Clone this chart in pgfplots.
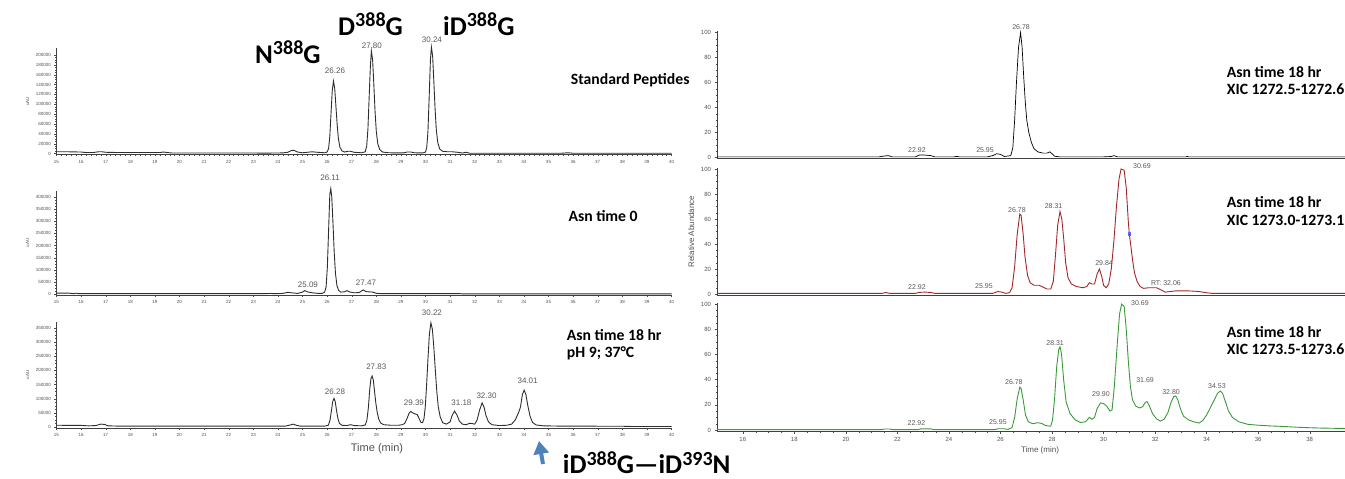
\documentclass[border=0pt]{standalone}
\usepackage{fontspec}
\setmainfont{Liberation Sans}
\newfontfamily\lbl{Carlito}
\usepackage{pgfplots}
\pgfplotsset{compat=1.18}
\usetikzlibrary{arrows.meta}

\definecolor{uvline}{HTML}{2E2E2E}
\definecolor{xicred}{HTML}{A0282B}
\definecolor{xicgreen}{HTML}{3A9A3A}
\definecolor{ticktext}{HTML}{505050}
\definecolor{arrowblue}{HTML}{4F81BD}

\pgfplotsset{
  chrom/.style={
    scale only axis, anchor=south west, clip=false,
    axis lines=left, axis line style={-, draw=black!75, line width=0.5pt},
    tick align=outside, tick style={draw=black!70, line width=0.3pt},
    scaled y ticks=false,
    /pgf/number format/assume math mode=true,
    yticklabel style={/pgf/number format/fixed, /pgf/number format/1000 sep={}},
  },
  uv/.style={
    chrom, width=615pt, xmin=15, xmax=40,
    xtick={15,...,40}, minor x tick num=4, minor y tick num=3,
    major tick length=2pt, minor tick length=1.2pt,
    tick label style={font=\fontsize{4.5}{5}\selectfont, text=ticktext},
    ylabel={uAU}, ylabel style={font=\fontsize{4.5}{5}\selectfont, text=ticktext},
  },
  ms/.style={
    chrom, width=628.8pt, xmin=15, xmax=39.4, ymin=-1, ymax=101,
    ytick={0,20,...,100}, minor y tick num=3,
    major tick length=2.5pt, minor tick length=1.5pt,
    tick label style={font=\fontsize{6}{7}\selectfont, text=ticktext},
  },
}
\tikzset{
  pk/.style={font=\fontsize{8}{9}\selectfont, text=black!65, inner sep=0pt},
  pkr/.style={font=\fontsize{7}{8}\selectfont, text=black!65, inner sep=0pt},
  tagnode/.style={anchor=base west, inner sep=0pt},
}

% big peptide names: 27pt, superscripts at 0.75
\newcommand{\sups}[1]{\raisebox{0.33em}{\fontsize{20}{20}\selectfont #1}}
\newcommand{\biglbl}[1]{{\lbl\bfseries\fontsize{27}{30}\selectfont #1}}
\newcommand{\paneltag}[1]{{\lbl\bfseries\fontsize{15.7}{18}\selectfont #1}}

\begin{document}
\begin{tikzpicture}
\useasboundingbox (0,0) rectangle (1345pt,479pt);

% ---------- left: UV traces ----------
\begin{axis}[uv, at={(56.5pt,324.5pt)}, height=106.4pt,
  ymin=-2000, ymax=214000, ytick={0,20000,...,200000}]
\addplot[uvline, line width=0.9pt] coordinates {
(15.00,3500) (15.50,3500) (16.00,3000) (16.20,2000) (16.50,2000) (16.70,3500) (16.85,3500)
(17.00,2500) (17.50,2000) (18.50,2000) (19.20,2000) (19.35,3000) (19.50,2000) (19.70,1000)
(21.00,1000) (23.00,1000) (23.50,800) (24.20,1200) (24.40,2500) (24.55,6000) (24.65,6500)
(24.80,3000) (25.00,1500) (25.20,2500) (25.40,3500) (25.60,2500) (25.90,1500) (26.00,3000)
(26.06,10000) (26.11,35000) (26.16,82000) (26.21,128000) (26.26,147000) (26.31,132000)
(26.36,95000) (26.41,58000) (26.46,30000) (26.52,13000) (26.60,5500) (26.70,3000)
(26.85,4500) (26.95,4500) (27.10,2500) (27.40,1500) (27.55,3500) (27.61,15000) (27.66,50000)
(27.71,115000) (27.76,178000) (27.80,208000) (27.85,190000) (27.90,140000) (27.95,85000)
(28.00,45000) (28.06,20000) (28.14,8000) (28.25,3000) (28.50,1500) (29.10,1200) (29.25,3000)
(29.40,3000) (29.55,1500) (29.90,1200) (30.00,3000) (30.05,12000) (30.10,45000)
(30.15,115000) (30.20,190000) (30.24,216000) (30.29,198000) (30.34,145000) (30.39,90000)
(30.44,48000) (30.50,22000) (30.58,9000) (30.70,4500) (30.90,3500) (31.10,3500) (31.30,2500)
(31.50,1000) (31.65,2500) (31.80,500) (32.50,500) (35.50,500) (35.80,1500) (36.00,500) (40.00,500)
};
\node[pk] at (axis cs:26.32,167500) {26.26};
\node[pk] at (axis cs:27.82,218000) {27.80};
\node[pk] at (axis cs:30.26,230000) {30.24};
\end{axis}

\begin{axis}[uv, at={(56.5pt,184pt)}, height=104pt,
  ymin=-4000, ymax=425000, ytick={0,50000,...,400000}]
\addplot[uvline, line width=0.9pt] coordinates {
(15.00,4000) (15.50,3500) (15.70,1500) (15.80,3500) (15.90,1500) (16.50,1500) (20.00,1500)
(23.50,1500) (23.70,2500) (23.85,1500) (24.20,2500) (24.40,7000) (24.55,5000) (24.80,2500)
(25.00,8000) (25.09,14000) (25.20,9000) (25.40,5000) (25.60,3000) (25.80,3000) (25.90,8000)
(25.96,30000) (26.01,110000) (26.06,260000) (26.11,410000) (26.15,435000) (26.19,400000)
(26.24,290000) (26.29,170000) (26.34,85000) (26.40,35000) (26.47,15000) (26.55,8000)
(26.70,9000) (26.80,14000) (26.90,9000) (27.10,5000) (27.30,6000) (27.47,17000)
(27.58,10000) (27.70,9000) (27.85,8000) (28.00,3000) (28.20,1500) (31.40,1500) (31.50,500)
(40.00,500)
};
\node[pk] at (axis cs:26.12,478000) {26.11};
\node[pk] at (axis cs:25.22,37000) {25.09};
\node[pk] at (axis cs:27.58,45000) {27.47};
\end{axis}

\begin{axis}[uv, at={(56.5pt,50.9pt)}, height=106.4pt,
  ymin=-4000, ymax=372000, ytick={0,50000,...,350000}]
\addplot[uvline, line width=0.9pt] coordinates {
(15.00,6000) (16.00,5500) (16.30,4000) (16.60,5000) (16.80,10000) (16.95,9000) (17.10,4000)
(17.50,3000) (24.30,3000) (24.50,7000) (24.62,10000) (24.75,6000) (24.90,3000) (25.90,3000)
(26.05,6000) (26.12,25000) (26.18,60000) (26.23,90000) (26.28,101000) (26.33,90000)
(26.38,60000) (26.44,30000) (26.50,13000) (26.60,6000) (26.80,5000) (26.95,8000)
(27.10,5000) (27.40,4000) (27.55,7000) (27.62,25000) (27.68,70000) (27.73,130000)
(27.78,170000) (27.83,180000) (27.88,165000) (27.93,125000) (27.98,85000) (28.04,50000)
(28.10,28000) (28.18,14000) (28.30,8000) (28.60,6000) (28.90,6000) (29.05,8000)
(29.15,12000) (29.25,30000) (29.33,48000) (29.40,55000) (29.48,50000) (29.58,46000)
(29.66,44000) (29.74,30000) (29.82,16000) (29.88,15000) (29.94,30000) (29.99,70000)
(30.04,140000) (30.10,240000) (30.16,330000) (30.22,368000) (30.28,345000) (30.34,280000)
(30.40,200000) (30.46,125000) (30.52,70000) (30.60,35000) (30.70,15000) (30.85,10000)
(31.00,18000) (31.08,40000) (31.18,56000) (31.28,42000) (31.38,20000) (31.50,10000)
(31.65,8000) (31.80,13000) (31.90,12000) (32.00,10000) (32.10,25000) (32.20,60000)
(32.30,85000) (32.38,70000) (32.46,40000) (32.56,18000) (32.70,8000) (33.00,5000)
(33.30,6000) (33.50,10000) (33.65,25000) (33.78,50000) (33.86,70000) (33.94,115000)
(34.01,130000) (34.08,115000) (34.16,75000) (34.25,38000) (34.35,16000) (34.50,7000)
(34.80,4000) (35.50,3000) (38.00,2500) (38.50,1500) (40.00,1500)
};
\node[pk] at (axis cs:30.26,404000) {30.22};
\node[pk] at (axis cs:28.00,213000) {27.83};
\node[pk] at (axis cs:26.32,125000) {26.28};
\node[pk] at (axis cs:29.53,84000) {29.39};
\node[pk] at (axis cs:31.46,86000) {31.18};
\node[pk] at (axis cs:32.48,111000) {32.30};
\node[pk] at (axis cs:34.15,162000) {34.01};
\end{axis}

% ---------- right: XIC traces ----------
\begin{axis}[ms, at={(717pt,320.25pt)}, height=127.5pt, xtick=\empty]
\addplot[black, line width=0.7pt] coordinates {
(15.00,0.5) (21.30,0.5) (21.50,1.2) (21.65,1.5) (21.80,0.5) (22.70,0.5) (22.85,2) (23.00,2)
(23.15,1.8) (23.30,1.5) (23.45,0.5) (24.20,0.5) (24.30,0.9) (24.40,0.5) (25.50,0.5)
(25.70,1.5) (25.85,3) (26.00,2.5) (26.15,0.8) (26.40,1.5) (26.48,8) (26.55,30) (26.62,60)
(26.70,88) (26.78,100) (26.84,88) (26.90,65) (26.96,45) (27.02,30) (27.10,20) (27.20,12)
(27.30,7) (27.45,4.5) (27.65,3.5) (27.80,3.5) (27.92,4.5) (28.00,3) (28.10,1) (28.30,0.5)
(30.00,0.5) (30.30,0.8) (30.40,1.5) (30.55,0.5) (33.20,0.5) (33.25,0.9) (33.30,0.5) (39.40,0.5)
};
\node[pkr] at (axis cs:26.80,104.4) {26.78};
\node[pkr] at (axis cs:22.76,6) {22.92};
\node[pkr] at (axis cs:25.40,6) {25.95};
\end{axis}

\begin{axis}[ms, at={(717pt,183.75pt)}, height=127.5pt, xtick=\empty,
  ylabel={Relative Abundance}, ylabel style={font=\fontsize{8}{9}\selectfont, text=ticktext}]
\addplot[xicred, line width=0.9pt] coordinates {
(15.00,0.5) (21.40,0.5) (21.55,1.2) (21.70,0.5) (22.70,0.5) (22.85,1.3) (23.10,1.5)
(23.30,1.2) (23.45,0.5) (25.70,0.5) (25.90,2.0) (26.05,1.5) (26.20,0.5) (26.35,1.0)
(26.45,5) (26.55,22) (26.65,48) (26.75,64) (26.80,63) (26.88,48) (26.95,30) (27.05,15)
(27.15,9) (27.30,7) (27.50,7) (27.65,5.5) (27.80,4) (27.95,4) (28.05,10) (28.13,30)
(28.22,55) (28.31,66) (28.38,60) (28.45,45) (28.53,25) (28.62,13) (28.75,8) (28.95,6)
(29.20,5) (29.35,6) (29.45,9) (29.55,8) (29.65,8) (29.75,16) (29.84,20) (29.93,14)
(30.00,7) (30.10,5) (30.20,8) (30.30,20) (30.40,42) (30.50,70) (30.60,92) (30.68,100)
(30.80,99) (30.88,85) (30.96,58) (31.00,48) (31.05,40) (31.12,28) (31.20,17) (31.30,10)
(31.42,6) (31.55,4.5) (31.75,5) (31.95,5) (32.06,5) (32.20,3.5) (32.40,1.5) (32.60,2)
(32.80,2.5) (33.30,2.5) (33.70,2) (34.00,1) (34.20,0.5) (39.40,0.5)
};
\addplot[only marks, mark=square, mark size=1.4pt, draw=blue!60, line width=0.5pt]
  coordinates {(31.00,48)};
\node[pkr] at (axis cs:31.49,102.4) {30.69};
\node[pkr] at (axis cs:26.64,67.2) {26.78};
\node[pkr] at (axis cs:28.06,70.4) {28.31};
\node[pkr] at (axis cs:30.02,24.8) {29.84};
\node[pkr] at (axis cs:32.42,8.8) {RT: 32.06};
\node[pkr] at (axis cs:22.76,5.6) {22.92};
\node[pkr] at (axis cs:25.36,6.4) {25.95};
\end{axis}

\begin{axis}[ms, at={(717pt,47.74pt)}, height=128.5pt,
  xtick={16,18,...,38}, minor x tick num=3]
\addplot[xicgreen, line width=0.9pt] coordinates {
(15.00,0.3) (21.40,0.3) (21.50,0.8) (21.70,0.8) (21.80,0.3) (22.80,0.3) (22.90,0.9)
(23.30,0.9) (23.40,0.3) (25.80,0.3) (25.90,1.0) (26.10,1.0) (26.30,0.5) (26.45,2)
(26.55,10) (26.65,25) (26.75,34) (26.80,33) (26.88,24) (26.97,12) (27.08,6.5) (27.25,5)
(27.45,5.8) (27.60,5.2) (27.75,3.5) (27.95,3) (28.02,8) (28.10,25) (28.18,50) (28.26,64)
(28.31,66) (28.37,60) (28.45,40) (28.55,22) (28.70,13) (28.90,8) (29.10,6) (29.30,6.5)
(29.45,10) (29.55,8.5) (29.65,10) (29.75,17) (29.88,21.5) (30.00,21) (30.12,19) (30.25,15)
(30.33,16) (30.42,35) (30.52,65) (30.62,92) (30.70,100) (30.80,98) (30.88,80) (30.96,55)
(31.04,35) (31.12,24) (31.25,19) (31.40,17.5) (31.52,18.5) (31.62,22) (31.69,22.5)
(31.78,19) (31.90,13) (32.05,9) (32.20,7) (32.35,8.5) (32.50,14) (32.62,22) (32.72,26.5)
(32.80,27) (32.88,24) (32.98,17) (33.10,11) (33.30,8) (33.50,6.5) (33.70,5.5) (33.85,7.5)
(34.00,12) (34.15,18) (34.30,24) (34.42,29) (34.53,31) (34.62,29) (34.72,23) (34.85,15)
(35.00,10) (35.25,6.5) (35.60,4.5) (36.00,3.8) (36.50,3.2) (37.00,2.8) (37.50,2.2)
(38.00,1.8) (38.50,1.5) (39.40,1.2)
};
\node[pkr] at (axis cs:31.41,100.8) {30.69};
\node[pkr] at (axis cs:28.12,69) {28.31};
\node[pkr] at (axis cs:26.52,38) {26.78};
\node[pkr] at (axis cs:29.90,28.6) {29.90};
\node[pkr] at (axis cs:31.61,39.7) {31.69};
\node[pkr] at (axis cs:32.62,30.2) {32.80};
\node[pkr] at (axis cs:34.40,34.9) {34.53};
\node[pkr] at (axis cs:22.74,5.6) {22.92};
\node[pkr] at (axis cs:25.90,6.3) {25.95};
\end{axis}

% ---------- axis titles ----------
\node[font=\fontsize{11}{12}\selectfont, text=ticktext] at (377pt,30pt) {Time (min)};
\node[font=\fontsize{8}{9}\selectfont, text=ticktext] at (1040pt,29pt) {Time (min)};

% ---------- annotations ----------
\node[tagnode] at (255pt,415.7pt) {\biglbl{N\sups{388}G}};
\node[tagnode] at (338pt,443.3pt) {\biglbl{D\sups{388}G}};
\node[tagnode] at (443pt,443.3pt) {\biglbl{iD\sups{388}G}};
\node[tagnode] at (570.7pt,394pt) {\paneltag{Standard Peptides}};
\node[tagnode] at (568.3pt,257.3pt) {\paneltag{Asn time 0}};
\node[tagnode] at (566.7pt,138.3pt) {\paneltag{Asn time 18 hr}};
\node[tagnode] at (566.7pt,121.7pt) {\paneltag{pH 9; 37°C}};
\node[tagnode] at (1226.7pt,401.3pt) {\paneltag{Asn time 18 hr}};
\node[tagnode] at (1226.7pt,384.7pt) {\paneltag{XIC 1272.5-1272.6}};
\node[tagnode] at (1226.7pt,271pt) {\paneltag{Asn time 18 hr}};
\node[tagnode] at (1226.7pt,253.5pt) {\paneltag{XIC 1273.0-1273.1}};
\node[tagnode] at (1226.7pt,141.5pt) {\paneltag{Asn time 18 hr}};
\node[tagnode] at (1226.7pt,124pt) {\paneltag{XIC 1273.5-1273.6}};
\draw[arrowblue, line width=4pt, -{Triangle[length=13pt, width=15pt]}]
  (543pt,15pt) -- (539pt,38pt);
\node[tagnode] at (562.7pt,5pt) {\biglbl{iD\sups{388}G—iD\sups{393}N}};
\end{tikzpicture}
\end{document}
